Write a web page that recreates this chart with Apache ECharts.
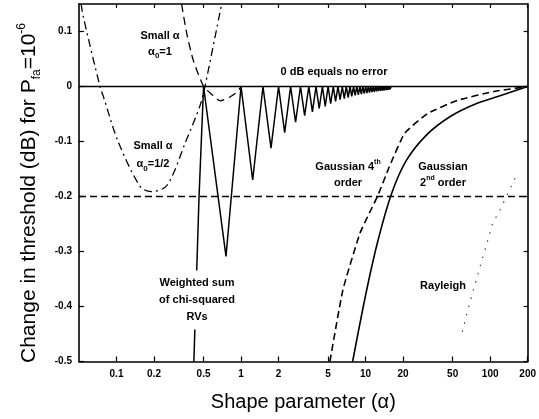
<!DOCTYPE html>
<html>
<head>
<meta charset="utf-8">
<script src="https://cdn.jsdelivr.net/npm/echarts@6/dist/echarts.min.js"></script>
<style>
html,body{margin:0;padding:0;background:#fff;}
#c{width:539px;height:419px;}
</style>
</head>
<body>
<div id="c"></div>
<script>
// ---- data ----
var xTickValues = [0.1, 0.2, 0.5, 1, 2, 5, 10, 20, 50, 100, 200];
var yTickValues = [-0.5, -0.4, -0.3, -0.2, -0.1, 0, 0.1];

// weighted sum of chi-squared RVs (solid, oscillating)
var wsAlpha = [0.418,0.46,0.5,0.757,1,1.24,1.5,1.74,2,2.24,2.5,2.74,3,3.24,3.5,3.74,4,4.24,4.5,4.74,5,5.24,5.5,5.74,6,6.24,6.5,6.74,7,7.24,7.5,7.74,8,8.24,8.5,8.74,9,9.24,9.5,9.74,10,10.24,10.5,10.74,11,11.24,11.5,11.74,12,12.24,12.5,12.74,13,13.24,13.5,13.74,14,14.24,14.5,14.74,15,15.24,15.5,15.74,16];
var wsValue = [-0.5,-0.2,0,-0.309,0,-0.170,0,-0.112,0,-0.084,0,-0.065,0,-0.053,0,-0.046,0,-0.040,0,-0.036,0,-0.031,0,-0.027,0,-0.024,0,-0.022,0,-0.020,0,-0.018,0,-0.016,0,-0.015,0,-0.014,0,-0.013,0,-0.012,0,-0.011,0,-0.010,0,-0.0095,0,-0.009,0,-0.0085,0,-0.008,0,-0.0075,0,-0.007,0,-0.0065,0,-0.006,0,-0.005,0];

// small alpha, alpha0 = 1 (dashed)
var sa1Alpha = [0.333,0.366,0.413,0.5,0.58,0.68,0.8,0.93,1.0];
var sa1Value = [0.15,0.097,0.048,0,-0.014,-0.026,-0.02,-0.01,0];

// small alpha, alpha0 = 1/2 (dash-dot)
var sa2Alpha = [0.052,0.0541,0.0737,0.0784,0.103,0.155,0.19,0.254,0.36,0.468,0.513,0.698];
var sa2Value = [0.15,0.127,0,-0.018,-0.1,-0.182,-0.191,-0.18,-0.1,-0.035,0,0.15];

// Gaussian 4th order (dashed)
var g4Alpha = [5.17,6.57,9.0,11.0,12.6,15.5,20.6,31.6,55,108,200];
var g4Value = [-0.5,-0.37,-0.267,-0.225,-0.197,-0.146,-0.085,-0.049,-0.025,-0.009,0];

// Gaussian 2nd order (solid)
var g2Alpha = [7.87,10.2,12.6,16.2,21.3,30.9,47.5,77.8,127,200];
var g2Value = [-0.5,-0.37,-0.279,-0.194,-0.134,-0.088,-0.055,-0.031,-0.015,0];

// Rayleigh (dotted)
var rayAlpha = [59.8,66.2,82.7,92.9,104.5,119.6,163.8];
var rayValue = [-0.446,-0.406,-0.328,-0.29,-0.249,-0.225,-0.16];

// reference lines
var zeroLine = [[0.05,0],[200,0]];
var thrLine = [[0.05,-0.2],[200,-0.2]];

function zip(a, v){ return a.map(function(x,i){ return [x, v[i]]; }); }

var FONT = "'Liberation Sans', Arial, sans-serif";
var chart = echarts.init(document.getElementById('c'), null, {renderer:'canvas'});

function fmt(v){ return String(parseFloat(Number(v).toPrecision(4))); }

var axisLineStyle = {color:'#000', width:1.6};

var option = {
  animation: false,
  backgroundColor: '#fff',
  grid: {left:79, right:11, top:4, bottom:57.5, containLabel:false},
  xAxis: [{
    type:'log', logBase:10, min:0.05, max:200, position:'bottom',
    axisLine:{show:true, onZero:false, lineStyle:axisLineStyle},
    axisTick:{show:true, inside:true, length:5, customValues:xTickValues, lineStyle:{color:'#000', width:1.2}},
    minorTick:{show:false},
    axisLabel:{show:true, customValues:xTickValues, formatter:fmt, fontFamily:FONT, fontSize:10, fontWeight:'bold', color:'#000', margin:8},
    splitLine:{show:false},
    name:'Shape parameter (α)', nameLocation:'middle', nameGap:31,
    nameTextStyle:{fontFamily:FONT, fontSize:20, color:'#000'}
  },{
    type:'log', logBase:10, min:0.05, max:200, position:'top',
    axisLine:{show:true, onZero:false, lineStyle:axisLineStyle},
    axisTick:{show:true, inside:true, length:4, customValues:xTickValues, lineStyle:{color:'#000', width:1.2}},
    axisLabel:{show:false}, splitLine:{show:false}
  }],
  yAxis: [{
    type:'value', min:-0.5, max:0.15, position:'left',
    axisLine:{show:true, onZero:false, lineStyle:axisLineStyle},
    axisTick:{show:true, inside:true, length:5, customValues:yTickValues, lineStyle:{color:'#000', width:1.2}},
    axisLabel:{show:true, customValues:yTickValues, formatter:fmt, fontFamily:FONT, fontSize:10, fontWeight:'bold', color:'#000', margin:7},
    splitLine:{show:false}
  },{
    type:'value', min:-0.5, max:0.15, position:'right',
    axisLine:{show:true, onZero:false, lineStyle:axisLineStyle},
    axisTick:{show:true, inside:true, length:4, customValues:yTickValues, lineStyle:{color:'#000', width:1.2}},
    axisLabel:{show:false}, splitLine:{show:false}
  }],
  series: [
    {name:'zero', type:'line', data:zeroLine, symbol:'none', lineStyle:{color:'#000', width:1.6}, z:3},
    {name:'threshold', type:'line', data:thrLine, symbol:'none', lineStyle:{color:'#000', width:1.4, type:[7,4]}, z:3},
    {name:'Weighted sum', type:'line', data:zip(wsAlpha, wsValue), symbol:'none', lineStyle:{color:'#000', width:1.5}, z:4},
    {name:'Small α α0=1', type:'line', data:zip(sa1Alpha, sa1Value), symbol:'none', smooth:0.2, lineStyle:{color:'#000', width:1.3, type:[8,5]}, z:4},
    {name:'Small α α0=1/2', type:'line', data:zip(sa2Alpha, sa2Value), symbol:'none', smooth:0.3, lineStyle:{color:'#000', width:1.3, type:[8,4,2,4]}, z:4},
    {name:'Gaussian 4th order', type:'line', data:zip(g4Alpha, g4Value), symbol:'none', smooth:0.15, lineStyle:{color:'#000', width:1.6, type:[7,4]}, z:4},
    {name:'Gaussian 2nd order', type:'line', data:zip(g2Alpha, g2Value), symbol:'none', smooth:0.35, lineStyle:{color:'#000', width:1.6}, z:4},
    {name:'Rayleigh', type:'line', data:zip(rayAlpha, rayValue), symbol:'none', lineStyle:{color:'#333', width:1.1, type:[1.5,7]}, z:4}
  ],
  graphic: [
    {type:'text', x:29, y:193, rotation:Math.PI/2, z:100,
     style:{text:'{n|Change in threshold (dB) for P}{s|fa}{n|=10}{p|-6}', align:'center', verticalAlign:'middle', fill:'#000',
       rich:{n:{fontFamily:FONT, fontSize:21, lineHeight:27, verticalAlign:'middle'},
             s:{fontFamily:FONT, fontSize:12, lineHeight:12, verticalAlign:'bottom'},
             p:{fontFamily:FONT, fontSize:12, lineHeight:12, verticalAlign:'top'}}}},
    {type:'text', x:160, y:44, z:100,
     style:{text:'{n|Small α}\n{n|α}{s|0}{n|=1}', align:'center', verticalAlign:'middle', fill:'#000',
       rich:{n:{fontFamily:FONT, fontSize:11, fontWeight:'bold', lineHeight:16, verticalAlign:'middle'},
             s:{fontFamily:FONT, fontSize:8, fontWeight:'bold', lineHeight:9, verticalAlign:'bottom'}}}},
    {type:'text', x:153, y:155, z:100,
     style:{text:'{n|Small α}\n{n|α}{s|0}{n|=1/2}', align:'center', verticalAlign:'middle', fill:'#000',
       rich:{n:{fontFamily:FONT, fontSize:11, fontWeight:'bold', lineHeight:18, verticalAlign:'middle'},
             s:{fontFamily:FONT, fontSize:8, fontWeight:'bold', lineHeight:9, verticalAlign:'bottom'}}}},
    {type:'text', x:334, y:72, z:100,
     style:{text:'0 dB equals no error', align:'center', verticalAlign:'middle', fill:'#000', font:'bold 11px ' + FONT}},
    {type:'text', x:348, y:175, z:100,
     style:{text:'{n|Gaussian 4}{p|th}\n{n|order}', align:'center', verticalAlign:'middle', fill:'#000',
       rich:{n:{fontFamily:FONT, fontSize:11, fontWeight:'bold', lineHeight:16, verticalAlign:'middle'},
             p:{fontFamily:FONT, fontSize:7, fontWeight:'bold', lineHeight:9, verticalAlign:'top'}}}},
    {type:'text', x:443, y:175, z:100,
     style:{text:'{n|Gaussian}\n{n|2}{p|nd}{n| order}', align:'center', verticalAlign:'middle', fill:'#000',
       rich:{n:{fontFamily:FONT, fontSize:11, fontWeight:'bold', lineHeight:16, verticalAlign:'middle'},
             p:{fontFamily:FONT, fontSize:7, fontWeight:'bold', lineHeight:9, verticalAlign:'top'}}}},
    {type:'text', x:197, y:300, z:100,
     style:{text:'Weighted sum\nof chi-squared\nRVs', align:'center', verticalAlign:'middle', fill:'#000',
       font:'bold 11px ' + FONT, lineHeight:17, backgroundColor:'#fff', padding:[4,3]}},
    {type:'text', x:443, y:286, z:100,
     style:{text:'Rayleigh', align:'center', verticalAlign:'middle', fill:'#000', font:'bold 11px ' + FONT}}
  ]
};
chart.setOption(option);
</script>
</body>
</html>
